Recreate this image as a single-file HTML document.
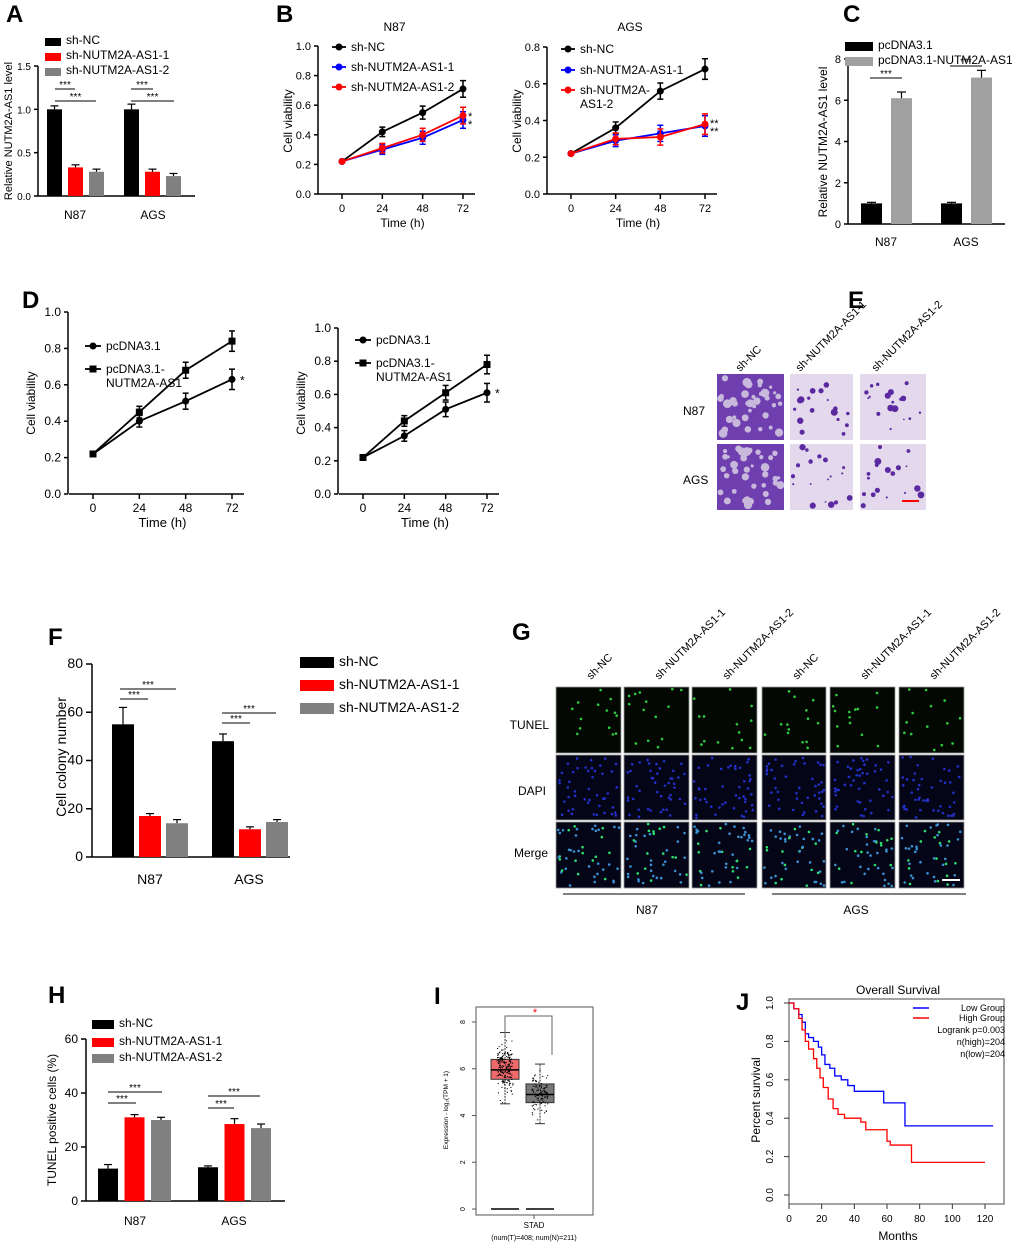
<!DOCTYPE html>
<html><head><meta charset="utf-8"><style>
body{margin:0;background:#fff}
svg{display:block;font-family:"Liberation Sans",Arial,sans-serif}
</style></head><body>
<svg id="fig" width="1020" height="1247" viewBox="0 0 1020 1247" xmlns="http://www.w3.org/2000/svg"></svg>
<script>
// ---------- DATA ----------
const barGroups=["N87","AGS"];
const aSeries=["sh-NC","sh-NUTM2A-AS1-1","sh-NUTM2A-AS1-2"];
const aVals=[[1.0,0.33,0.28],[1.0,0.28,0.23]];
const aErr=[[0.04,0.03,0.03],[0.06,0.03,0.03]];
const aTicks=[0,0.5,1.0,1.5];
const timeCats=[0,24,48,72];
const bN87NC=[0.22,0.42,0.55,0.71],bN87S1=[0.22,0.30,0.38,0.50],bN87S2=[0.22,0.31,0.40,0.53];
const bAGSNC=[0.22,0.36,0.56,0.68],bAGSS1=[0.22,0.29,0.33,0.37],bAGSS2=[0.22,0.30,0.31,0.38];
const cSeries=["pcDNA3.1","pcDNA3.1-NUTM2A-AS1"];
const cVals=[[1.0,6.1],[1.0,7.1]];
const cErr=[[0.05,0.3],[0.05,0.35]];
const dL1=[0.22,0.40,0.51,0.63],dL2=[0.22,0.45,0.68,0.84];
const dR1=[0.22,0.35,0.51,0.61],dR2=[0.22,0.44,0.61,0.78];
const fVals=[[55,17,14],[48,11.5,14.5]];
const fErr=[[7,1,1.5],[3,1,1]];
const hVals=[[12,31,30],[12.5,28.5,27]];
const hErr=[[1.5,1,1],[0.5,2,1.5]];
const iStats=[[4.5,5.55,5.95,6.4,7.55],[3.65,4.55,4.9,5.35,6.2]];
const jLowT=[0,3,6,8,10,12,15,18,20,22,25,28,32,36,40,45,57,58,70,71,125];
const jLowS=[1.0,0.97,0.94,0.90,0.84,0.82,0.80,0.77,0.73,0.68,0.66,0.62,0.60,0.57,0.54,0.54,0.54,0.48,0.48,0.36,0.36];
const jHighT=[0,3,6,8,10,12,15,17,19,21,24,27,30,34,40,44,47,56,60,62,74,75,120];
const jHighS=[1.0,0.97,0.92,0.86,0.80,0.76,0.71,0.66,0.61,0.56,0.50,0.45,0.42,0.40,0.40,0.38,0.34,0.34,0.28,0.26,0.26,0.17,0.17];

// ---------- helpers ----------
const NS="http://www.w3.org/2000/svg";
const svg=document.getElementById('fig');
function mk(tag,at,parent){const e=document.createElementNS(NS,tag);for(const k in at)e.setAttribute(k,at[k]);(parent||svg).appendChild(e);return e;}
function txt(x,y,s,size,anchor,extra,parent){const t=mk('text',Object.assign({x:x,y:y,'font-size':size,'text-anchor':anchor||'start',fill:'#000'},extra||{}),parent);t.textContent=s;return t;}
function lin(d0,d1,r0,r1){return v=>r0+(v-d0)*(r1-r0)/(d1-d0);}
function grp(name){const g=mk('g',{});return g;}
function label(s,x,y){const t=txt(x,y,s,24,'start',{'font-weight':'bold'});}
function yAxis(g,x,y,ticks,fmt,size,len){mk('line',{x1:x,y1:y(ticks[0]),x2:x,y2:y(ticks[ticks.length-1]),stroke:'#000','stroke-width':1.5},g);
 ticks.forEach(t=>{mk('line',{x1:x-(len||5),y1:y(t),x2:x,y2:y(t),stroke:'#000','stroke-width':1.5},g);const l=txt(x-(len||5)-3,y(t)+4,fmt(t),size||11,'end',{},g);});}
function ytitle(g,x,y,s,size){const t=txt(x,y,s,size||12,'middle',{transform:'rotate(-90 '+x+' '+y+')'},g);}
function star(g,x1,x2,y,s){mk('line',{x1:x1,y1:y,x2:x2,y2:y,stroke:'#000','stroke-width':1},g);txt((x1+x2)/2,y-1,s,10,'middle',{},g);}

function bars(g,vals,errs,y,xStart,groupGap,barW,pitch,colors,names){
 vals.forEach((gv,gi)=>gv.forEach((v,si)=>{const x=xStart+gi*groupGap+si*pitch;
  const r=mk('rect',{x:x,y:y(v),width:barW,height:y(0)-y(v),fill:colors[si]},g);
  
  
  const e=errs[gi][si];mk('line',{x1:x+barW/2,y1:y(v),x2:x+barW/2,y2:y(v+e),stroke:'#000','stroke-width':1.2},g);
  mk('line',{x1:x+barW/2-4,y1:y(v+e),x2:x+barW/2+4,y2:y(v+e),stroke:'#000','stroke-width':1.2},g);}));
}
function legendRow(g,x,y,color,s,size,w,h){const r=mk('rect',{x:x,y:y-h+2,width:w,height:h,fill:color},g);const t=txt(x+w+5,y,s,size,'start',{},g);}

function lineSeries(g,x,y,vals,color,marker,name){
 const pts=vals.map((v,i)=>x(timeCats[i])+','+y(v)).join(' ');
 const p=mk('polyline',{points:pts,fill:'none',stroke:color,'stroke-width':1.8},g);
 vals.forEach((v,i)=>{const cx=x(timeCats[i]),cy=y(v);const e=i===0?0:0.02+0.012*i;
  mk('line',{x1:cx,y1:y(v-e),x2:cx,y2:y(v+e),stroke:color,'stroke-width':1.5},g);
  mk('line',{x1:cx-3,y1:y(v+e),x2:cx+3,y2:y(v+e),stroke:color,'stroke-width':1.5},g);
  mk('line',{x1:cx-3,y1:y(v-e),x2:cx+3,y2:y(v-e),stroke:color,'stroke-width':1.5},g);
  const m=marker==='sq'?mk('rect',{x:cx-3.5,y:cy-3.5,width:7,height:7,fill:color},g):mk('circle',{cx:cx,cy:cy,r:3.5,fill:color},g);
  });
}
function xAxisTime(g,x,y0,size){mk('line',{x1:x(0)-24,y1:y0,x2:x(72)+12,y2:y0,stroke:'#000','stroke-width':1.5},g);
 timeCats.forEach(t=>{mk('line',{x1:x(t),y1:y0,x2:x(t),y2:y0+5,stroke:'#000','stroke-width':1.5},g);const l=txt(x(t),y0+18,String(t),size,'middle',{},g);});
 const tt=txt((x(0)+x(72))/2,y0+33,'Time (h)',size+1,'middle',{},g);}

// ---------- Panel A ----------
label('A',6,22);
{const g=grp('panel-a-chart');const y=lin(0,1.5,196,66);
 yAxis(g,38,y,aTicks,t=>t.toFixed(1),10,4);ytitle(g,12,131,'Relative NUTM2A-AS1 level',11);
 mk('line',{x1:38,y1:196,x2:195,y2:196,stroke:'#000','stroke-width':1.5},g);
 bars(g,aVals,aErr,y,47,77,15,21,['#000','#f00','#808080'],['sh-nc','sh-1','sh-2']);
 txt(75,219,'N87',12,'middle',{},g);txt(153,219,'AGS',12,'middle',{},g);
 star(g,55,96,101,'***');star(g,55,75,89,'***');
 star(g,131,174,101,'***');star(g,131,153,89,'***');
 [['#000',aSeries[0]],['#f00',aSeries[1]],['#808080',aSeries[2]]].forEach((c,i)=>legendRow(g,45,44+i*15,c[0],c[1],12,16,8));}

// ---------- Panel B ----------
label('B',276,22);
function panelB(name,x0,x72,yTop,yMaxV,ticks,title,d,leg){const g=grp(name);const x=lin(0,72,x0,x72);const y=lin(0,yMaxV,194,yTop);
 yAxis(g,x0-24,y,ticks,t=>t.toFixed(1),11,4);ytitle(g,x0-50,121,'Cell viability',12);
 xAxisTime(g,x,194,11);txt((x0+x72)/2-8,31,title,12,'middle',{},g);
 lineSeries(g,x,y,d[0],'#000','c','sh-nc');lineSeries(g,x,y,d[1],'#00f','c','sh-1');lineSeries(g,x,y,d[2],'#f00','c','sh-2');
 leg.forEach((l,i)=>{mk('line',{x1:x0-10,y1:l[1]-4,x2:x0+4,y2:l[1]-4,stroke:l[0],'stroke-width':1.8},g);mk('circle',{cx:x0-3,cy:l[1]-4,r:3.5,fill:l[0]},g);
  l[2].forEach((s,j)=>{const t=txt(x0+9,l[1]+j*14,s,12,'start',{},g);});});
 return {g,x,y};}
{const r=panelB('panel-b-n87',342,463,46,1.0,[0,0.2,0.4,0.6,0.8,1.0],'N87',[bN87NC,bN87S1,bN87S2],[['#000',51,['sh-NC']],['#00f',71,['sh-NUTM2A-AS1-1']],['#f00',91,['sh-NUTM2A-AS1-2']]]);
 txt(468,120,'*',11,'start',{},r.g);txt(468,128,'*',11,'start',{},r.g);}
{const r=panelB('panel-b-ags',571,705,47,0.8,[0,0.2,0.4,0.6,0.8],'AGS',[bAGSNC,bAGSS1,bAGSS2],[['#000',53,['sh-NC']],['#00f',74,['sh-NUTM2A-AS1-1']],['#f00',94,['sh-NUTM2A-','AS1-2']]]);
 txt(710,127,'**',11,'start',{},r.g);txt(710,135,'**',11,'start',{},r.g);}

// ---------- Panel C ----------
label('C',843,22);
{const g=grp('panel-c-chart');const y=lin(0,8,224,59);
 yAxis(g,848,y,[0,2,4,6,8],t=>String(t),11,4);ytitle(g,827,142,'Relative NUTM2A-AS1 level',12);
 mk('line',{x1:848,y1:224,x2:1005,y2:224,stroke:'#000','stroke-width':1.5},g);
 const cv=cVals,ce=cErr;
 cv.forEach((gv,gi)=>gv.forEach((v,si)=>{const bx=861+gi*80+si*30;const r=mk('rect',{x:bx,y:y(v),width:21,height:224-y(v),fill:si?'#a0a0a0':'#000'},g);
  mk('line',{x1:bx+10.5,y1:y(v),x2:bx+10.5,y2:y(v+ce[gi][si]),stroke:'#000','stroke-width':1.2},g);mk('line',{x1:bx+6,y1:y(v+ce[gi][si]),x2:bx+15,y2:y(v+ce[gi][si]),stroke:'#000','stroke-width':1.2},g);}));
 txt(886,246,'N87',12,'middle',{},g);txt(966,246,'AGS',12,'middle',{},g);
 star(g,870,902,78,'***');star(g,950,982,66,'***');
 legendRow(g,845,49,'#000',cSeries[0],12,28,9);legendRow(g,845,64,'#a0a0a0',cSeries[1],12,28,9);}

// ---------- Panel D ----------
label('D',22,308);
function panelD(name,x0,x72,yTop,d1,d2,ya){const g=grp(name);const x=lin(0,72,x0,x72);const y=lin(0,1.0,494,yTop);
 yAxis(g,x0-25,y,[0,0.2,0.4,0.6,0.8,1.0],t=>t.toFixed(1),12,4);ytitle(g,x0-58,403,'Cell viability',12);
 xAxisTime(g,x,494,12);
 lineSeries(g,x,y,d1,'#000','c','pcdna');lineSeries(g,x,y,d2,'#000','sq','pcdna-nutm2a');
 txt(x72+8,y(d1[3])+5,'*',12,'start',{},g);
 mk('line',{x1:x0-8,y1:ya,x2:x0+8,y2:ya,stroke:'#000','stroke-width':1.8},g);mk('circle',{cx:x0,cy:ya,r:3.5},g);
 mk('line',{x1:x0-8,y1:ya+23,x2:x0+8,y2:ya+23,stroke:'#000','stroke-width':1.8},g);mk('rect',{x:x0-3.5,y:ya+19.5,width:7,height:7},g);
 [['pcDNA3.1',ya+4],['pcDNA3.1-',ya+27],['NUTM2A-AS1',ya+41]].forEach(l=>{const t=txt(x0+13,l[1],l[0],12,'start',{},g);});}
panelD('panel-d-left',93,232,312,dL1,dL2,346);
panelD('panel-d-right',363,487,328,dR1,dR2,340);

// ---------- Panel E ----------
label('E',848,308);
{const g=grp('panel-e-images');
 ['sh-NC','sh-NUTM2A-AS1-1','sh-NUTM2A-AS1-2'].forEach((s,i)=>{const xs=[740,800,876][i];txt(xs,372,s,11,'start',{transform:'rotate(-45 '+xs+' 372)'},g);});
 txt(683,415,'N87',12,'start',{},g);txt(683,484,'AGS',12,'start',{},g);
 let seed=7;const rnd=()=>{seed=(seed*9301+49297)%233280;return seed/233280;};
 [[717,784],[790,853],[860,926]].forEach((c,ci)=>[[374,440],[444,510]].forEach((r,ri)=>{
  const im=mk('rect',{x:c[0],y:r[0],width:c[1]-c[0],height:r[1]-r[0],fill:ci===0?'#6f3fb0':'#e3d8ec'},g);
  const n=ci===0?40:18;for(let k=0;k<n;k++){mk('circle',{cx:c[0]+3+rnd()*(c[1]-c[0]-6),cy:r[0]+3+rnd()*(r[1]-r[0]-6),r:ci===0?1.5+rnd()*3:0.8+rnd()*2.8,fill:ci===0?'#c8b8dc':'#5b2aa0'},g);}}));
 mk('line',{x1:902,y1:501,x2:919,y2:501,stroke:'#f00','stroke-width':2},g);}

// ---------- Panel F ----------
label('F',48,645);
{const g=grp('panel-f-chart');const y=lin(0,80,857,664);
 yAxis(g,92,y,[0,20,40,60,80],t=>String(t),14,6);ytitle(g,66,757,'Cell colony number',14);
 mk('line',{x1:92,y1:857,x2:290,y2:857,stroke:'#000','stroke-width':1.5},g);
 bars(g,fVals,fErr,y,112,100,22,27,['#000','#f00','#808080'],['sh-nc','sh-1','sh-2']);
 txt(150,884,'N87',14,'middle',{},g);txt(249,884,'AGS',14,'middle',{},g);
 star(g,120,148,699,'***');star(g,120,176,689,'***');
 star(g,222,250,723,'***');star(g,222,276,713,'***');
 legendRow(g,300,666,'#000','sh-NC',14,34,11);legendRow(g,300,689,'#f00','sh-NUTM2A-AS1-1',14,34,11);legendRow(g,300,712,'#808080','sh-NUTM2A-AS1-2',14,34,11);}

// ---------- Panel G ----------
label('G',512,640);
{const g=grp('panel-g-images');
 const cols=[[556,621],[624,689],[692,757],[762,826],[830,895],[899,964]];
 const heads=['sh-NC','sh-NUTM2A-AS1-1','sh-NUTM2A-AS1-2','sh-NC','sh-NUTM2A-AS1-1','sh-NUTM2A-AS1-2'];
 cols.forEach((c,i)=>{const x=c[0]+35,yy=680;txt(x,yy,heads[i],11,'start',{transform:'rotate(-45 '+x+' '+yy+')'},g);});
 txt(549,729,'TUNEL',12,'end',{},g);txt(546,795,'DAPI',12,'end',{},g);txt(548,857,'Merge',12,'end',{},g);
 let seed=3;const rnd=()=>{seed=(seed*9301+49297)%233280;return seed/233280;};
 const rows=[[687,753,'#2ecc40'],[755,820,'#2230c8'],[822,888,'#3a8fd0']];
 cols.forEach(c=>rows.forEach((r,ri)=>{const im=mk('rect',{x:c[0],y:r[0],width:c[1]-c[0],height:r[1]-r[0],fill:ri===0?'#030803':'#050518',stroke:'#999','stroke-width':0.8},g);
  const n=ri===0?14:45;for(let k=0;k<n;k++){mk('circle',{cx:c[0]+2+rnd()*(c[1]-c[0]-4),cy:r[0]+2+rnd()*(r[1]-r[0]-4),r:1.3,fill:ri===2&&k%3===0?'#2ee070':r[2]},g);}}));
 mk('line',{x1:942,y1:880,x2:960,y2:880,stroke:'#fff','stroke-width':2},g);
 mk('line',{x1:563,y1:894,x2:745,y2:894,stroke:'#000','stroke-width':1},g);mk('line',{x1:772,y1:894,x2:966,y2:894,stroke:'#000','stroke-width':1},g);
 txt(647,914,'N87',12,'middle',{},g);txt(856,914,'AGS',12,'middle',{},g);}

// ---------- Panel H ----------
label('H',48,1003);
{const g=grp('panel-h-chart');const y=lin(0,60,1201,1039);
 yAxis(g,86,y,[0,20,40,60],t=>String(t),12,5);ytitle(g,56,1120,'TUNEL positive cells (%)',12);
 mk('line',{x1:86,y1:1201,x2:285,y2:1201,stroke:'#000','stroke-width':1.5},g);
 bars(g,hVals,hErr,y,98,100,20,26.5,['#000','#f00','#808080'],['sh-nc','sh-1','sh-2']);
 txt(135,1225,'N87',12,'middle',{},g);txt(234,1225,'AGS',12,'middle',{},g);
 star(g,108,136,1103,'***');star(g,108,162,1092,'***');
 star(g,208,234,1108,'***');star(g,208,260,1096,'***');
 legendRow(g,92,1027,'#000','sh-NC',12,22,9);legendRow(g,92,1045,'#f00','sh-NUTM2A-AS1-1',12,22,9);legendRow(g,92,1061,'#808080','sh-NUTM2A-AS1-2',12,22,9);}

// ---------- Panel I ----------
label('I',434,1004);
{const g=grp('panel-i-boxplot');const y=lin(0,8,1209,1022);
 mk('rect',{x:476,y:1007,width:117,height:208,fill:'none',stroke:'#555','stroke-width':1},g);
 [0,2,4,6,8].forEach(t=>{mk('line',{x1:472,y1:y(t),x2:476,y2:y(t),stroke:'#555'},g);txt(465,y(t),String(t),7,'middle',{transform:'rotate(-90 465 '+y(t)+')'},g);});
 ytitle(g,448,1110,'Expression - log\u2082(TPM + 1)',6.5);
 const cx=[505,540],cols=['#ef6a6a','#777'];
 let seed=11;const rnd=()=>{seed=(seed*9301+49297)%233280;return seed/233280;};
 iStats.forEach((s,i)=>{mk('line',{x1:cx[i],y1:y(s[0]),x2:cx[i],y2:y(s[4]),stroke:'#333','stroke-dasharray':'2,1'},g);
  mk('line',{x1:cx[i]-5,y1:y(s[0]),x2:cx[i]+5,y2:y(s[0]),stroke:'#333'},g);mk('line',{x1:cx[i]-5,y1:y(s[4]),x2:cx[i]+5,y2:y(s[4]),stroke:'#333'},g);
  const b=mk('rect',{x:cx[i]-14,y:y(s[3]),width:28,height:y(s[1])-y(s[3]),fill:cols[i],stroke:'#333'},g);
  mk('line',{x1:cx[i]-14,y1:y(s[2]),x2:cx[i]+14,y2:y(s[2]),stroke:'#000','stroke-width':1.5},g);
  for(let k=0;k<(i?110:190);k++){const u=(rnd()+rnd()+rnd())/3;mk('circle',{cx:cx[i]-8+rnd()*16,cy:y(s[0]+(s[4]-s[0])*u),r:0.6,fill:'#000'},g);}
  mk('line',{x1:cx[i]-14,y1:y(0),x2:cx[i]+14,y2:y(0),stroke:'#000','stroke-width':1.5},g);});
 mk('polyline',{points:'505,1036 505,1016 552,1016 552,1055',fill:'none',stroke:'#666'},g);txt(535,1016,'*',11,'middle',{fill:'#f00'},g);
 mk('line',{x1:534,y1:1215,x2:534,y2:1219,stroke:'#555'},g);
 txt(534,1228,'STAD',8,'middle',{},g);txt(534,1240,'(num(T)=408; num(N)=211)',7,'middle',{},g);}

// ---------- Panel J ----------
label('J',736,1010);
{const g=grp('panel-j-km');const x=lin(0,120,789,985);const y=lin(0,1,1195,1003);
 mk('rect',{x:789,y:999,width:215,height:205,fill:'none',stroke:'#666','stroke-width':1.2},g);
 txt(898,994,'Overall Survival',12,'middle',{},g);
 [0,0.2,0.4,0.6,0.8,1.0].forEach(t=>{mk('line',{x1:784,y1:y(t),x2:789,y2:y(t),stroke:'#333'},g);txt(773,y(t),t.toFixed(1),10,'middle',{transform:'rotate(-90 773 '+y(t)+')'},g);});
 [0,20,40,60,80,100,120].forEach(t=>{mk('line',{x1:x(t),y1:1204,x2:x(t),y2:1209,stroke:'#333'},g);txt(x(t),1222,String(t),10,'middle',{},g);});
 txt(898,1240,'Months',12,'middle',{},g);ytitle(g,760,1100,'Percent survival',12);
 function step(T,S,color,name){let d='M'+x(T[0])+','+y(S[0]);for(let i=1;i<T.length;i++){d+=' H'+x(T[i])+' V'+y(S[i]);}
  const p=mk('path',{d:d,fill:'none',stroke:color,'stroke-width':1.3},g);}
 step(jLowT,jLowS,'#00f','low-group');step(jHighT,jHighS,'#f00','high-group');
 mk('line',{x1:913,y1:1008,x2:929,y2:1008,stroke:'#00f','stroke-width':1.5},g);mk('line',{x1:913,y1:1018,x2:929,y2:1018,stroke:'#f00','stroke-width':1.5},g);
 txt(1005,1011,'Low  Group',9,'end',{},g);txt(1005,1021,'High  Group',9,'end',{},g);
 txt(1005,1033,'Logrank p=0.003',9,'end',{},g);txt(1005,1045,'n(high)=204',9,'end',{},g);txt(1005,1057,'n(low)=204',9,'end',{},g);}
</script>
</body></html>
